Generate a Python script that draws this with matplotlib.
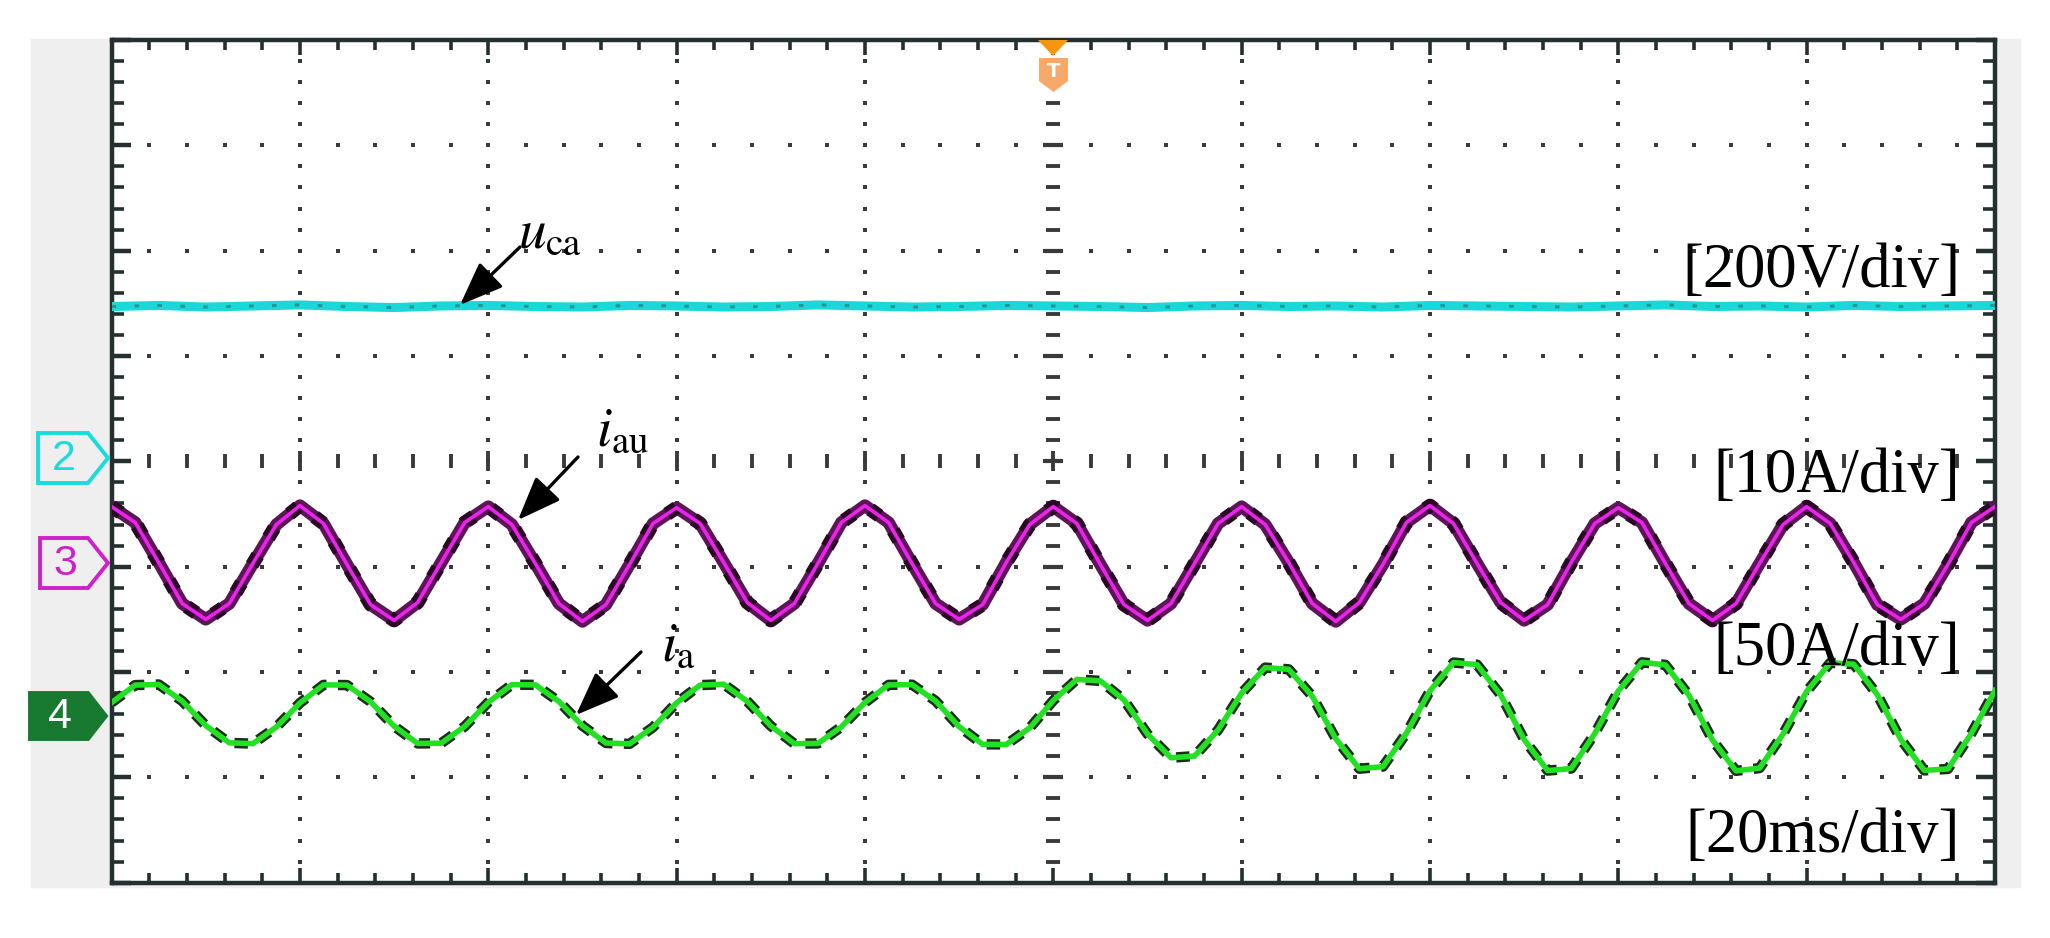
import numpy as np
import matplotlib.pyplot as plt
from matplotlib.patches import Polygon, Rectangle

plt.rcParams['mathtext.fontset'] = 'stix'

# ---------------- captured record ----------------
# time base: 20 ms/div, 10 div
t_ms = np.linspace(0, 200, 81)      # i_au, i_a sampled every 2.5 ms
t_uca = np.linspace(0, 200, 41)     # u_ca sampled every 5 ms

# ch2  u_ca  [V]
u_ca = [294, 296, 293, 295, 297, 294, 292, 295, 296, 294, 293, 296, 295, 293,
        294, 297, 295, 293, 294, 296, 295, 294, 292, 295, 296, 294, 295, 293,
        296, 295, 294, 293, 295, 297, 294, 295, 293, 296, 294, 295, 296]

# ch3  i_au  [A]
i_au = [5.4, 3.9, 0.1, -3.8, -5.3, -3.8, 0.0, 3.7,
        5.5, 3.8, -0.1, -3.9, -5.4, -3.7, 0.1, 3.9,
        5.4, 3.7, 0.0, -3.8, -5.5, -3.9, -0.1, 3.8,
        5.3, 3.8, 0.1, -3.7, -5.4, -3.8, 0.0, 3.9,
        5.5, 3.9, 0.0, -3.8, -5.3, -3.9, 0.1, 3.7,
        5.4, 3.8, -0.1, -3.9, -5.4, -3.8, 0.0, 3.8,
        5.4, 3.7, 0.1, -3.8, -5.5, -3.7, -0.1, 3.9,
        5.5, 3.8, 0.0, -3.7, -5.4, -3.9, 0.1, 3.8,
        5.3, 3.9, 0.0, -3.8, -5.4, -3.8, 0.0, 3.7,
        5.4, 3.8, 0.1, -3.9, -5.3, -3.8, -0.1, 3.9,
        5.4]

# ch4  i_a  [A]
i_a = [5.5, 13.8, 14.1, 6.2, -5.4, -13.6, -14.0, -6.1,
       5.3, 13.9, 13.8, 5.9, -5.7, -13.9, -13.8, -5.8,
       5.6, 14.0, 13.9, 6.0, -5.5, -13.7, -14.1, -6.2,
       5.4, 13.8, 14.2, 6.1, -5.6, -14.0, -13.9, -6.0,
       5.5, 13.9, 14.0, 6.3, -5.9, -14.3, -14.4, -6.5,
       6.5, 16.5, 15.8, 6.8, -9.4, -20.7, -19.9, -7.5,
       10.0, 22.1, 21.3, 8.5, -11.7, -25.9, -24.9, -9.0,
       11.1, 24.5, 23.5, 9.2, -12.1, -26.8, -25.8, -9.2,
       11.0, 24.6, 23.4, 9.0, -12.3, -26.9, -25.6, -9.4,
       10.8, 24.4, 23.7, 9.3, -12.0, -26.7, -26.0, -9.1,
       11.2]

# channel settings: units per division, offset in divisions
ch2_scale, ch2_offset = 200.0, 0.0
ch3_scale, ch3_offset = 10.0, -0.97
ch4_scale, ch4_offset = 50.0, -2.40

scale_labels = ['[200V/div]', '[10A/div]', '[50A/div]', '[20ms/div]']

# ---------------- layout helpers (reference pixel -> data) ----------------
W, H = 2050, 938
L, R, T, B = 111.6, 1995.0, 40.0, 882.7


def px(x):
    return (x - L) / (R - L) * 200


def py(y):
    return 4 - (y - T) / (B - T) * 8


fig = plt.figure(figsize=(W / 100, H / 100), dpi=100)
bg = Rectangle((31 / W, 1 - 887 / H), (2020 - 31) / W, (887 - 39) / H,
               transform=fig.transFigure, color='#efefef', zorder=-10)
fig.add_artist(bg)
ax = fig.add_axes([L / W, 1 - B / H, (R - L) / W, (B - T) / H])
ax.set_facecolor('white')
ax.set_xlim(0, 200)
ax.set_ylim(-4, 4)

frame = '#243030'
for s in ax.spines.values():
    s.set_linewidth(3.2)
    s.set_color(frame)

ax.set_xticks(np.arange(0, 201, 20))
ax.set_xticks(np.arange(0, 201, 4), minor=True)
ax.set_yticks(np.arange(-4, 5, 1))
ax.set_yticks(np.arange(-4, 4.01, 0.2), minor=True)
ax.tick_params(axis='x', which='major', direction='in', length=11, width=2.6,
               top=True, bottom=True, labelbottom=False, color=frame)
ax.tick_params(axis='x', which='minor', direction='in', length=7.5, width=2.6,
               top=True, bottom=True, color=frame)
ax.tick_params(axis='y', which='major', direction='in', length=14, width=3.2,
               left=True, right=True, labelleft=False, color=frame)
ax.tick_params(axis='y', which='minor', direction='in', length=8.5, width=2.6,
               left=True, right=True, color=frame)

# dotted graticule
dot = '#3a3a3a'
yy = np.arange(-3.8, 3.81, 0.2)
xx = np.arange(4, 197, 4)
for k in range(20, 200, 20):
    if k == 100:
        continue
    ax.plot(np.full(len(yy), k), yy, ls='none', marker='s', ms=2.7, color=dot, mew=0)
for k in range(-3, 4):
    if k == 0:
        continue
    ax.plot(xx, np.full(len(xx), k), ls='none', marker='s', ms=2.7, color=dot, mew=0)

# center axes with dashes
yy_min = yy[np.abs(yy - np.round(yy)) > 0.05]
yy_maj = np.arange(-3, 4)
ax.plot(np.full(len(yy_min), 100), yy_min, ls='none', marker='_', ms=10, mew=2.8, color=dot)
ax.plot(np.full(len(yy_maj), 100), yy_maj, ls='none', marker='_', ms=15, mew=3.0, color=dot)
xx_min = xx[(xx % 20) != 0]
xx_maj = np.arange(20, 181, 20)
ax.plot(xx_min, np.zeros(len(xx_min)), ls='none', marker='|', ms=9.5, mew=2.8, color=dot)
ax.plot(xx_maj, np.zeros(len(xx_maj)), ls='none', marker='|', ms=14, mew=2.8, color=dot)

# ---------------- traces ----------------
y2 = ch2_offset + np.array(u_ca) / ch2_scale
y3 = ch3_offset + np.array(i_au) / ch3_scale
y4 = ch4_offset + np.array(i_a) / ch4_scale

ax.plot(t_uca, y2, color='#1ad8d8', lw=6.5, solid_capstyle='butt', zorder=5)
ax.plot(t_uca, y2, color='#2a6a6a', lw=2.2, dashes=(1.5, 6), alpha=0.6, zorder=6)

ax.plot(t_ms, y3, color='#5c1556', lw=9, solid_joinstyle='round', zorder=5)
ax.plot(t_ms, y3, color='#2a0826', lw=10, dashes=(0.8, 1.5), zorder=6)
ax.plot(t_ms, y3, color='#ee22ee', lw=2.6, solid_joinstyle='round', zorder=7)

ax.plot(t_ms, y4, color='#1a2e1a', lw=7.5, dashes=(1.3, 1.1), zorder=5)
ax.plot(t_ms, y4, color='#22e022', lw=4, solid_joinstyle='round', zorder=6)

# ---------------- scale labels ----------------
lab_y = [272, 477, 650, 837]
for txt, yp in zip(scale_labels, lab_y):
    ax.text(px(1960), py(yp), txt, ha='right', va='center',
            family='Liberation Serif', fontsize=45, zorder=8)

# ---------------- signal names with arrows ----------------
arrow = dict(arrowstyle='-|>,head_length=0.9,head_width=0.35', mutation_scale=30,
             lw=2.4, color='black', shrinkA=0, shrinkB=0)
ax.annotate('', xy=(px(460), py(305)), xytext=(px(520), py(247)), arrowprops=arrow, zorder=9)
ax.annotate('', xy=(px(518), py(520)), xytext=(px(578), py(457)), arrowprops=arrow, zorder=9)
ax.annotate('', xy=(px(576), py(715)), xytext=(px(641), py(652)), arrowprops=arrow, zorder=9)

ax.text(px(518), py(247), r'$u_{\mathrm{ca}}$', fontsize=40, ha='left', va='baseline', zorder=9)
ax.text(px(596), py(445), r'$i_{\mathrm{au}}$', fontsize=40, ha='left', va='baseline', zorder=9)
ax.text(px(661), py(660), r'$i_{\mathrm{a}}$', fontsize=40, ha='left', va='baseline', zorder=9)


# ---------------- channel markers ----------------
def ch_marker(x0, x1, xt, yc, h, edge, face, label, tcol):
    pts = [(x0, yc - h / 2), (x1, yc - h / 2), (xt, yc), (x1, yc + h / 2), (x0, yc + h / 2)]
    ax.add_patch(Polygon([(px(a), py(b)) for a, b in pts], closed=True, fc=face, ec=edge,
                         lw=2.8, clip_on=False, zorder=10))
    ax.text(px((x0 + x1) / 2 + 1), py(yc + 1), label, ha='center', va='center', color=tcol,
            family='Liberation Sans', fontsize=31, clip_on=False, zorder=11)


ch_marker(38, 88, 108, 458, 50, '#18dcdc', '#efefef', '2', '#18dcdc')
ch_marker(40, 88, 108, 563, 50, '#d020c8', '#efefef', '3', '#d020c8')
ch_marker(30, 88, 106, 716, 46, '#177a30', '#177a30', '4', 'white')

# trigger marker
ax.add_patch(Polygon([(px(1038), py(40)), (px(1068), py(40)), (px(1053), py(56))],
                     closed=True, fc='#f5960f', ec='none', clip_on=False, zorder=10))
ax.add_patch(Polygon([(px(1039), py(58)), (px(1068), py(58)), (px(1068), py(81)),
                      (px(1053.5), py(92)), (px(1039), py(81))],
                     closed=True, fc='#f8a868', ec='none', clip_on=False, zorder=10))
ax.text(px(1053.5), py(71), 'T', ha='center', va='center', color='white',
        fontsize=14, fontweight='bold', zorder=11)

fig.savefig('out.png', dpi=100)
